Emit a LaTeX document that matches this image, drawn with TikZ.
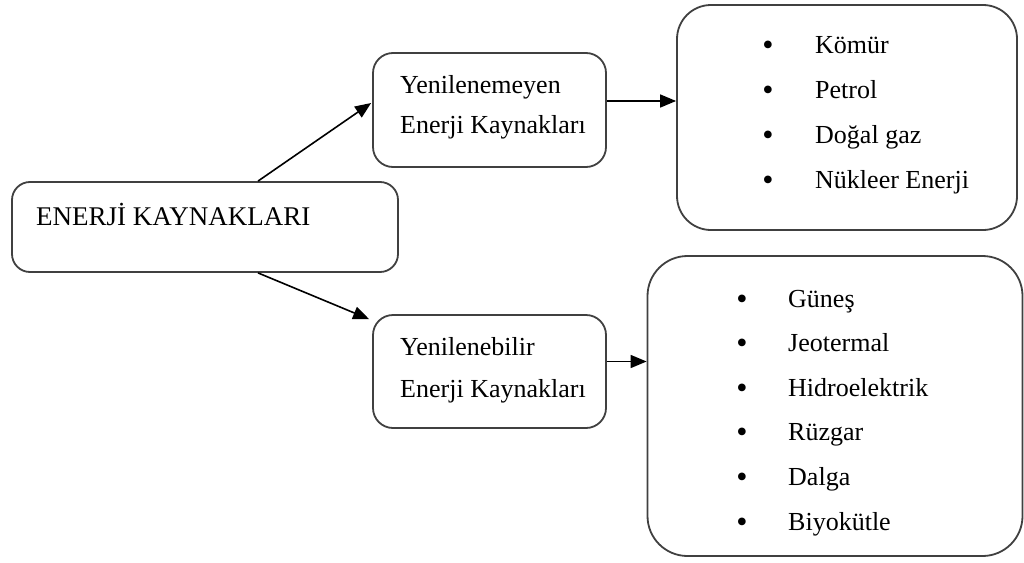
\documentclass[tikz,border=0pt]{standalone}
\usepackage{fontspec}
\setmainfont{Liberation Serif}
\usetikzlibrary{arrows.meta}
\begin{document}
\begin{tikzpicture}[x=1pt,y=-1pt,
  box/.style={draw=black!75, line width=1.8pt, fill=white, inner sep=0pt},
  txt/.style={anchor=base west, inner sep=0pt, font=\fontsize{26}{30}\selectfont},
  bul/.style={anchor=base, inner sep=0pt, font=\fontsize{32}{36}\selectfont},
  arr/.style={line width=1.6pt, -{Triangle[length=16pt,width=13pt]}}]
\useasboundingbox (0,0) rectangle (1024,562);
% boxes
\node[box, minimum width=386pt, minimum height=90pt, rounded corners=18pt] (main) at (205,227) {};
\node[box, minimum width=233pt, minimum height=114pt, rounded corners=20pt] (mid1) at (489.5,110) {};
\node[box, minimum width=233pt, minimum height=113pt, rounded corners=20pt] (mid2) at (489.5,371.5) {};
\node[box, minimum width=340pt, minimum height=225pt, rounded corners=34pt] (r1) at (847,117.5) {};
\node[box, minimum width=375pt, minimum height=300pt, rounded corners=40pt] (r2) at (835,406) {};
% texts
\node[txt, font=\fontsize{27}{30}\selectfont] (tmain) at (36,225) {ENERJİ KAYNAKLARI};
\node[txt] (tm1a) at (400,93) {Yenilenemeyen};
\node[txt] (tm1b) at (400,133) {Enerji Kaynakları};
\node[txt] (tm2a) at (400,355) {Yenilenebilir};
\node[txt] (tm2b) at (400,397) {Enerji Kaynakları};
% top list
\foreach \t [count=\i] in {Kömür,Petrol,Doğal gaz,Nükleer Enerji}{
  \node[bul] (b1\i) at (768,{55+45*(\i-1)}) {•};
  \node[txt] (l1\i) at (815,{53+45*(\i-1)}) {\t};
}
% bottom list
\foreach \t [count=\i] in {Güneş,Jeotermal,Hidroelektrik,Rüzgar,Dalga,Biyokütle}{
  \node[bul] (b2\i) at (742,{309+44.6*(\i-1)}) {•};
  \node[txt] (l2\i) at (788,{307+44.6*(\i-1)}) {\t};
}
% arrows
\draw[arr] ([xshift=53pt]main.north) -- ([xshift=-1pt,yshift=7pt]mid1.west);
\draw[arr] ([xshift=53pt]main.south) -- ([xshift=-3pt,yshift=-5pt]mid2.north west);
\draw[arr] ([yshift=9pt]mid1.east) -- ([yshift=9pt]mid1.east -| r1.west);
\draw[arr] ([yshift=10pt]mid2.east) -- ([yshift=10pt]mid2.east -| r2.west);
\end{tikzpicture}
\end{document}
